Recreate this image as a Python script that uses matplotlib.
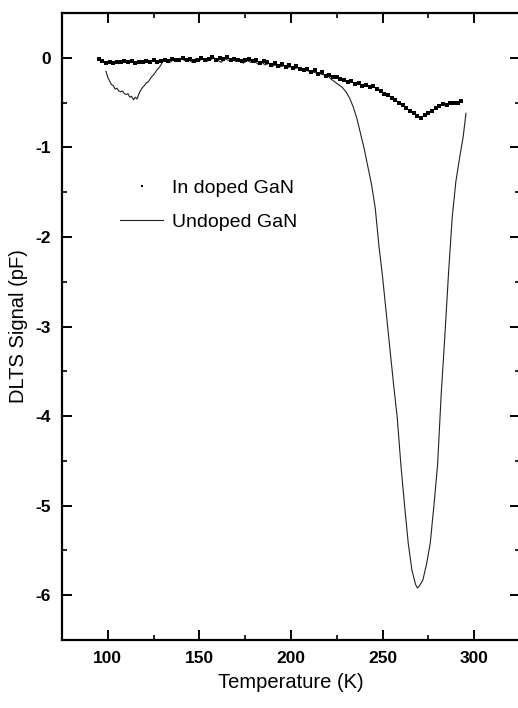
import numpy as np
import matplotlib
matplotlib.use("Agg")
import matplotlib.pyplot as plt
from matplotlib.ticker import MultipleLocator

plt.rcParams['font.family'] = ['Liberation Sans', 'DejaVu Sans']
plt.rcParams['axes.unicode_minus'] = False

# In doped GaN (dots)
t_doped = list(range(95, 294, 2))
v_doped = [-0.01, -0.04, -0.06, -0.05, -0.06, -0.05, -0.05, -0.04, -0.05, -0.04,
           -0.06, -0.05, -0.05, -0.04, -0.05, -0.03, -0.05, -0.04, -0.02, -0.04,
           -0.01, -0.03, -0.02, 0.00, -0.03, -0.01, -0.04, -0.02, 0.00, -0.03,
           -0.01, 0.01, -0.02, 0.00, -0.01, 0.01, -0.03, -0.01, -0.02, -0.04,
           -0.02, -0.01, -0.04, -0.03, -0.06, -0.04, -0.05, -0.08, -0.06, -0.09,
           -0.07, -0.10, -0.08, -0.11, -0.09, -0.12, -0.14, -0.12, -0.16, -0.14,
           -0.18, -0.16, -0.20, -0.19, -0.22, -0.21, -0.24, -0.25, -0.27, -0.26,
           -0.29, -0.28, -0.31, -0.30, -0.33, -0.32, -0.35, -0.37, -0.40, -0.42,
           -0.45, -0.47, -0.50, -0.53, -0.56, -0.59, -0.62, -0.65, -0.67, -0.64,
           -0.62, -0.59, -0.56, -0.54, -0.52, -0.53, -0.51, -0.51, -0.50, -0.48]

# Undoped GaN (line)
t_undoped = [99, 100, 101, 102, 103, 104, 105, 106, 107, 108, 109, 110, 111, 112,
             113, 114, 115, 116, 117, 118, 119, 120, 121, 122, 123, 124, 125, 126,
             127, 128, 129, 130, 132, 134, 136, 138, 140, 142, 144, 146, 148, 150,
             152, 154, 156, 158, 160, 162, 164, 166, 168, 170, 172, 174, 176, 178,
             180, 182, 184, 186, 188, 190, 192, 194, 196, 198, 200, 202, 204, 206,
             208, 210, 212, 214, 216, 218, 220, 222, 224, 226, 228, 230, 232, 234,
             236, 238, 240, 242, 244, 246, 248, 250, 252, 254, 256, 258, 260, 262,
             264, 266, 268, 269, 270, 272, 274, 276, 278, 280, 282, 284, 286, 288,
             290, 292, 294, 295.5]
v_undoped = [-0.15, -0.22, -0.26, -0.30, -0.31, -0.35, -0.34, -0.37, -0.38, -0.37,
             -0.40, -0.41, -0.40, -0.44, -0.43, -0.47, -0.44, -0.46, -0.40, -0.36,
             -0.33, -0.31, -0.28, -0.27, -0.24, -0.21, -0.19, -0.16, -0.13, -0.11,
             -0.08, -0.04, -0.03, -0.05, -0.02, -0.04, -0.01, -0.03, -0.02, -0.05,
             -0.01, -0.03, -0.01, -0.04, -0.02, 0.00, -0.03, -0.05, -0.01, -0.03,
             -0.02, -0.04, -0.03, -0.06, -0.03, -0.05, -0.04, -0.07, -0.05, -0.08,
             -0.06, -0.09, -0.08, -0.10, -0.09, -0.11, -0.10, -0.12, -0.11, -0.13,
             -0.14, -0.15, -0.16, -0.17, -0.18, -0.19, -0.20, -0.24, -0.27, -0.30,
             -0.33, -0.38, -0.45, -0.55, -0.68, -0.85, -1.02, -1.22, -1.42, -1.68,
             -2.10, -2.45, -2.85, -3.25, -3.65, -4.02, -4.55, -5.00, -5.42, -5.72,
             -5.88, -5.92, -5.90, -5.83, -5.65, -5.42, -5.00, -4.55, -3.75, -3.10,
             -2.40, -1.78, -1.38, -1.12, -0.88, -0.62]

fig = plt.figure(figsize=(5.18, 7.08), dpi=100)
ax = fig.add_axes([62/518, 1 - 640/708, (520 - 62)/518, (640 - 13)/708])

ax.plot(t_undoped, v_undoped, '-', color='#222222', lw=0.8, label='Undoped GaN')
ax.plot(t_doped, v_doped, 's', color='black', ms=2.5, mew=0, label='In doped GaN')

ax.set_xlim(75, 325)
ax.set_ylim(-6.5, 0.5)
ax.xaxis.set_major_locator(MultipleLocator(50))
ax.xaxis.set_minor_locator(MultipleLocator(25))
ax.yaxis.set_major_locator(MultipleLocator(1))
ax.yaxis.set_minor_locator(MultipleLocator(0.5))

for s in ax.spines.values():
    s.set_linewidth(1.6)
ax.tick_params(which='both', direction='in', top=True, right=True)
ax.tick_params(which='major', length=7, width=1.4, labelsize=12.5, pad=8)
ax.tick_params(which='minor', length=3.5, width=1.2)
for lab in ax.get_xticklabels() + ax.get_yticklabels():
    lab.set_fontweight('bold')

ax.set_xlabel('Temperature (K)', fontsize=14.5, labelpad=5)
ax.set_ylabel('DLTS Signal (pF)', fontsize=14.5)
ax.yaxis.set_label_coords(-0.096, 0.5)
ax.yaxis.label.set_verticalalignment('center')

h, l = ax.get_legend_handles_labels()
ax.legend([h[1], h[0]], [l[1], l[0]], loc='upper left', bbox_to_anchor=(0.127, 0.735),
          frameon=False, borderpad=0, borderaxespad=0, fontsize=14, numpoints=1,
          handlelength=2.2, handletextpad=0.45, labelspacing=0.85, markerscale=0.7)

fig.savefig('out.png', dpi=100)
